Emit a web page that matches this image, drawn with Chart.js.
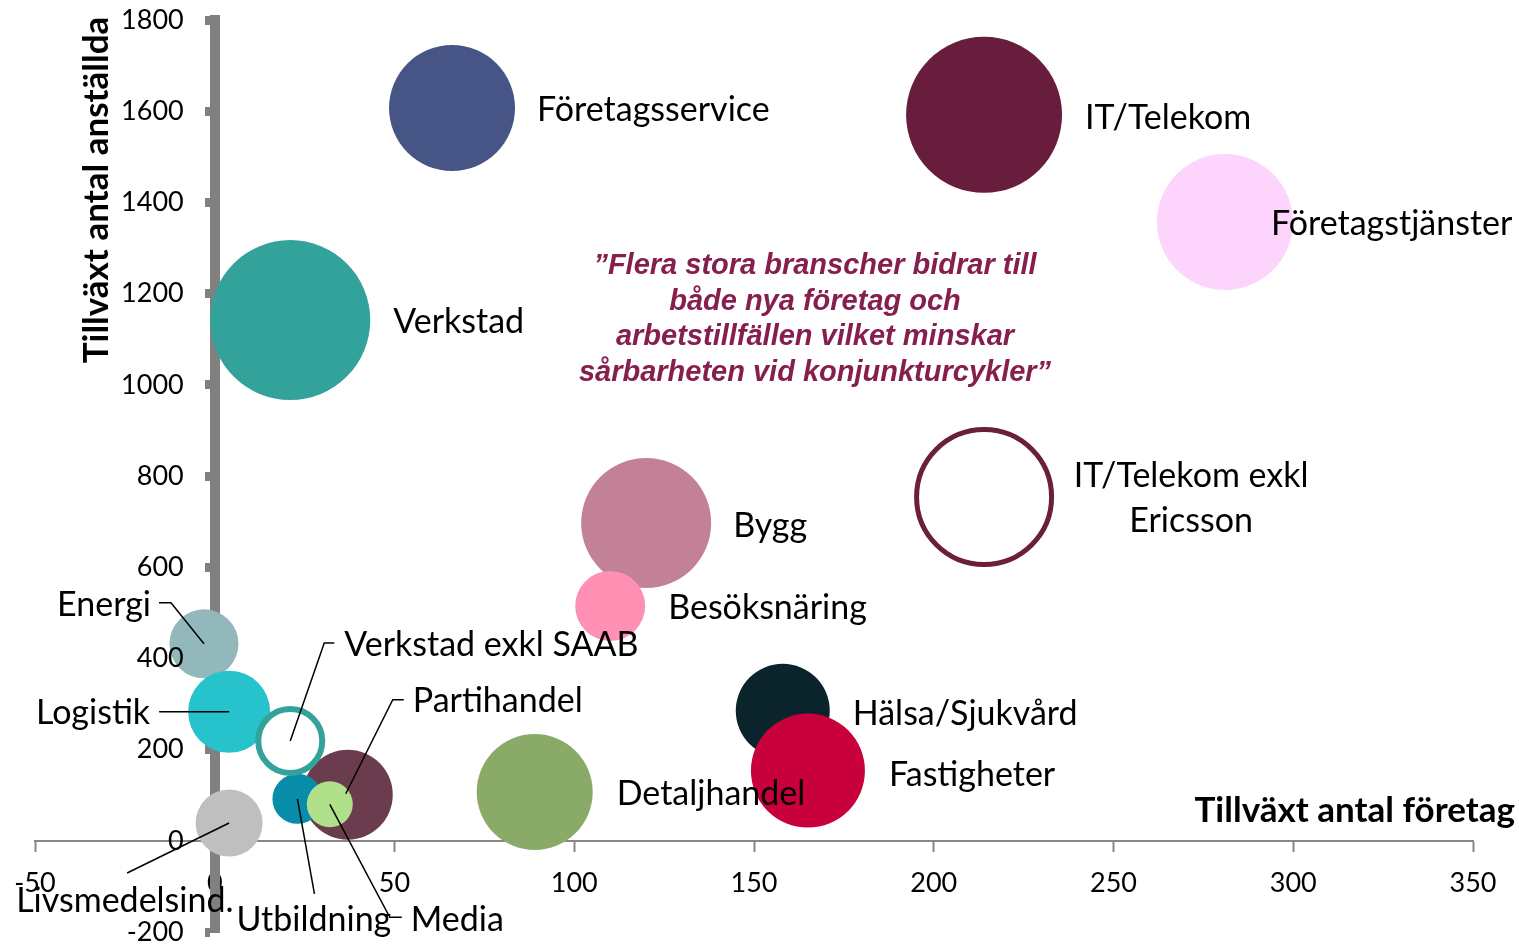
<!DOCTYPE html>
<html>
<head>
<meta charset="utf-8">
<script src="https://cdn.jsdelivr.net/npm/chart.js@4.4.1/dist/chart.umd.min.js"></script>
<style>
  html, body { margin: 0; padding: 0; background: #ffffff; }
</style>
</head>
<body>
<canvas id="bubblor" width="1519" height="944"></canvas>
<script>
'use strict';

// --- data ---
const branscher = [
  'Företagsservice', 'IT/Telekom', 'Företagstjänster', 'Verkstad', 'Bygg',
  'Besöksnäring', 'IT/Telekom exkl Ericsson', 'Hälsa/Sjukvård', 'Fastigheter',
  'Detaljhandel', 'Energi', 'Logistik', 'Livsmedelsind.', 'Partihandel',
  'Utbildning', 'Media', 'Verkstad exkl SAAB'
];
const tillvaxtForetag   = [66, 214, 281, 21, 120, 110, 214, 158, 165, 89, -3, 4, 4, 37, 23, 32, 21];
const tillvaxtAnstallda = [1607, 1592, 1357, 1142, 697, 515, 754, 285, 154, 107, 432, 283, 39, 101, 92, 80, 219];
const bubbelStorlek     = [63, 78, 68, 80, 65, 35, 67.5, 47, 57, 58, 34.5, 41, 33.5, 45, 25, 23, 32];

const xTickVarden = [-50, 0, 50, 100, 150, 200, 250, 300, 350];
const yTickVarden = [-200, 0, 200, 400, 600, 800, 1000, 1200, 1400, 1600, 1800];

const citat = [
  '\u201DFlera stora branscher bidrar till',
  'både nya företag och',
  'arbetstillfällen vilket minskar',
  'sårbarheten vid konjunkturcykler\u201D'
];

// --- utseende ---
const fyllning = [
  '#475486', '#671d3b', '#fdd4fc', '#33a29b', '#c28197',
  '#ff90b4', '#ffffff', '#0b232a', '#c8003c',
  '#8aab68', '#93b8bb', '#26c3cd', '#bfbfbf', '#6b3c4d',
  '#078da9', '#b1e08b', '#ffffff'
];
const kant = fyllning.map((c, i) => i === 6 ? '#6a1f3c' : (i === 16 ? '#33a29b' : c));
const kantBredd = fyllning.map((c, i) => i === 6 ? 5 : (i === 16 ? 6 : 0));

// etiketter: förskjutning i pixlar från bubblans mitt
const etikettLayout = [
  { align: 'left', dx: 85, dy: 2 },
  { align: 'left', dx: 101, dy: 3 },
  { align: 'left', dx: 46, dy: 2 },
  { align: 'left', dx: 103, dy: 2 },
  { align: 'left', dx: 87, dy: 3 },
  { align: 'left', dx: 58, dy: 2 },
  { align: 'center', dx: 207, dy: -21, rader: ['IT/Telekom exkl', 'Ericsson'], radAvstand: 45 },
  { align: 'left', dx: 70, dy: 3 },
  { align: 'left', dx: 81, dy: 4 },
  { align: 'left', dx: 82, dy: 2 },
  { align: 'right', dx: -53, dy: -39, linje: [[-45, -41], [-33, -41], [0, 0]] },
  { align: 'right', dx: -79, dy: 1, linje: [[-70, 0], [0, 0]] },
  { align: 'left', dx: -213, dy: 78, linje: [[0, 0], [-102, 50]] },
  { align: 'left', dx: 65, dy: -94, linje: [[56, -95], [45, -95], [-2, -1]] },
  { align: 'left', dx: -61, dy: 121, linje: [[0, 0], [17, 95]] },
  { align: 'left', dx: 81, dy: 116, linje: [[0, 0], [60, 113], [72, 113]] },
  { align: 'left', dx: 54, dy: -96, linje: [[44, -98], [34, -98], [0, 0]] }
];

const typsnitt = 'Lato, "Open Sans", sans-serif';

let Bubbeldiagram = function () {

  var _punkter = function () {
    return branscher.map((b, i) => ({
      x: tillvaxtForetag[i],
      y: tillvaxtAnstallda[i],
      r: bubbelStorlek[i]
    }));
  };

  var _nollstall = function (scale) {
    if (scale.isHorizontal()) scale.height = 0;
    else scale.width = 0;
    scale.paddingTop = scale.paddingBottom = scale.paddingLeft = scale.paddingRight = 0;
  };

  var _etiketter = {
    id: 'etiketter',
    afterDatasetsDraw(chart) {
      const ctx = chart.ctx;
      const element = chart.getDatasetMeta(0).data;
      ctx.save();
      ctx.strokeStyle = '#000000';
      ctx.lineWidth = 1.5;
      ctx.fillStyle = '#000000';
      ctx.font = '34px ' + typsnitt;
      ctx.textBaseline = 'middle';
      etikettLayout.forEach((e, i) => {
        const p = element[i];
        if (e.linje) {
          ctx.beginPath();
          e.linje.forEach((q, k) => {
            if (k === 0) ctx.moveTo(p.x + q[0], p.y + q[1]);
            else ctx.lineTo(p.x + q[0], p.y + q[1]);
          });
          ctx.stroke();
        }
        ctx.textAlign = e.align;
        const rader = e.rader || [branscher[i]];
        rader.forEach((t, k) => {
          ctx.fillText(t, p.x + e.dx, p.y + e.dy + k * (e.radAvstand || 0));
        });
      });

      // y-axelns etiketter, till vänster om axeln vid x = 0
      const xs = chart.scales.x, ys = chart.scales.y;
      const axelX = xs.getPixelForValue(0);
      ctx.font = '27px ' + typsnitt;
      ctx.textAlign = 'right';
      yTickVarden.forEach(v => ctx.fillText(String(v), axelX - 31, ys.getPixelForValue(v)));
      ctx.restore();
    },
    afterDraw(chart) {
      const ctx = chart.ctx;
      ctx.save();
      ctx.fillStyle = '#000000';
      ctx.font = 'bold 35px ' + typsnitt;
      ctx.textAlign = 'right';
      ctx.textBaseline = 'alphabetic';
      ctx.fillText('Tillväxt antal företag', 1515, 822);

      ctx.translate(108, 190);
      ctx.rotate(-Math.PI / 2);
      ctx.textAlign = 'center';
      ctx.fillText('Tillväxt antal anställda', 0, 0);
      ctx.restore();

      ctx.save();
      ctx.fillStyle = '#861e4e';
      ctx.font = 'italic bold 29px "Liberation Sans", Arial, sans-serif';
      ctx.textAlign = 'center';
      ctx.textBaseline = 'middle';
      citat.forEach((rad, k) => ctx.fillText(rad, 815, 266 + k * 35.5));
      ctx.restore();
    }
  };

  var _rita = function () {
    var ctx = document.getElementById('bubblor').getContext('2d');
    var config = {
      type: 'bubble',
      data: {
        datasets: [{
          label: 'Branscher',
          data: _punkter(),
          backgroundColor: fyllning,
          borderColor: kant,
          borderWidth: kantBredd,
          hoverRadius: 0,
          clip: false
        }]
      },
      options: {
        responsive: false,
        animation: false,
        devicePixelRatio: 1,
        layout: { autoPadding: false, padding: { left: 35, right: 46, top: 20, bottom: 12 } },
        plugins: { legend: { display: false }, tooltip: { enabled: false } },
        scales: {
          x: {
            type: 'linear',
            min: -50,
            max: 350,
            position: { y: 0 },
            afterBuildTicks: (s) => { s.ticks = xTickVarden.map(v => ({ value: v })); },
            afterFit: _nollstall,
            grid: { drawOnChartArea: false, color: '#868686', tickLength: 10, tickWidth: 2 },
            border: { color: '#868686', width: 2 },
            ticks: { color: '#000000', font: { family: typsnitt, size: 27 }, padding: 16, maxRotation: 0 }
          },
          y: {
            type: 'linear',
            min: -200,
            max: 1800,
            position: { x: 0 },
            afterBuildTicks: (s) => { s.ticks = yTickVarden.map(v => ({ value: v })); },
            afterFit: _nollstall,
            grid: { drawOnChartArea: false, color: '#808080', tickLength: 5, tickWidth: 9 },
            border: { color: '#808080', width: 10 },
            ticks: { display: false }
          }
        }
      },
      plugins: [_etiketter]
    };
    window.bubblor = new Chart(ctx, config);
  };

  return {
    init: function () {
      _rita();
    }
  };

}();

document.addEventListener('DOMContentLoaded', function () {
  Bubbeldiagram.init();
});
</script>
</body>
</html>
